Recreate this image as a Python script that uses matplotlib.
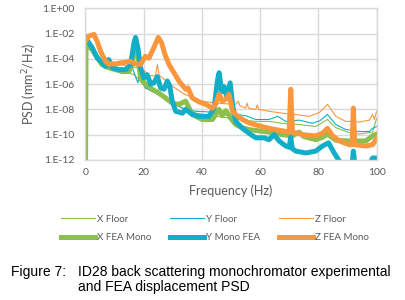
import numpy as np
import matplotlib.pyplot as plt
from matplotlib.ticker import FuncFormatter

# data: frequency (Hz) and log10 of PSD (mm^2/Hz)
x_floor_f = [0, 2, 4, 6, 8, 10, 13, 15, 17, 19, 20.6, 24, 28, 33.3, 38, 43, 47, 51.6,
             58.5, 63, 67.7, 73.4, 79.1, 83.1, 86, 90.6, 94, 98.6, 100]
x_floor_exp = [-2.7, -3.0, -3.8, -4.4, -4.7, -4.9, -5.0, -5.1, -5.3, -5.8, -6.3, -6.7, -7.2,
               -7.9, -8.3, -8.5, -8.6, -8.8, -8.95, -8.95, -9.1, -9.2, -9.35, -8.8, -9.45,
               -9.85, -9.95, -9.8, -8.7]

y_floor_f = [0, 2, 4, 6, 7.5, 9, 12, 15, 16, 17, 18, 19, 20.6, 24, 28.7, 33.3, 37.8, 42.4,
             46, 51.6, 55, 58.5, 63, 66, 68.8, 73.4, 77.9, 80.5, 83.1, 86, 89.4, 91.5, 92,
             92.5, 94, 97.5, 98.6, 100]
y_floor_exp = [-2.6, -2.8, -3.6, -4.3, -4.2, -4.6, -4.9, -5.1, -4.6, -5.3, -5.9, -5.0, -6.3,
               -6.7, -7.35, -7.9, -8.15, -8.2, -8.3, -8.4, -8.5, -8.8, -8.8, -8.55, -8.95,
               -8.85, -9.1, -8.9, -8.4, -9.2, -9.6, -9.65, -8.4, -9.7, -9.75, -9.75, -9.5,
               -9.35]

z_floor_f = [0, 1.5, 3, 4.5, 6, 8, 10, 13, 15, 18, 20, 22, 24, 24.7, 25.3, 27, 29.8, 33.3,
             36, 40.1, 44.7, 48, 51.6, 52.5, 53, 55, 55.5, 56, 58.5, 59, 59.5, 63, 67.7, 72,
             76.8, 80.3, 83.1, 86, 89.4, 91.5, 92, 92.5, 94, 97.5, 98.6, 99.2, 100]
z_floor_exp = [-2.5, -2.2, -2.1, -2.9, -3.8, -4.3, -4.4, -4.5, -4.6, -4.7, -4.9, -5.3, -5.35,
               -4.45, -5.3, -5.6, -6.15, -6.7, -7.0, -7.35, -7.5, -7.55, -7.6, -7.35, -7.7,
               -7.9, -7.5, -7.9, -8.0, -7.65, -8.0, -8.15, -8.3, -8.4, -8.55, -8.25, -7.6,
               -8.55, -8.95, -8.95, -7.75, -8.95, -9.0, -8.85, -8.4, -8.8, -8.15]

x_fea_f = [0, 0.2, 2.3, 4, 5.7, 8, 10.3, 12.6, 14.9, 16, 16.8, 17.3, 18, 18.9, 20.6, 22.9,
           25.2, 27.5, 29.8, 32.1, 34.4, 36.7, 40.1, 43.6, 45.9, 47, 48.2, 49.9, 51.6, 53.9,
           56.2, 59.6, 63, 67.7, 71, 73.4, 75, 79.1, 81.5, 83.1, 86, 90.6, 96.3, 98.6, 100]
x_fea_exp = [-14, -2.85, -3.25, -3.9, -4.45, -4.7, -4.85, -5.0, -5.0, -4.5, -2.6, -2.4, -3.8,
             -5.5, -6.0, -6.4, -6.7, -7.1, -7.5, -7.6, -7.35, -8.4, -8.8, -8.8, -8.0, -8.5,
             -8.1, -8.7, -9.2, -9.45, -9.6, -9.7, -9.8, -10.0, -10.1, -9.8, -10.15, -10.4,
             -10.2, -9.95, -10.45, -10.5, -10.5, -10.1, -9.95]

y_fea_f = [0, 1.1, 2.3, 4, 5.7, 6.9, 8, 9.2, 11.5, 13.8, 15.5, 16.6, 17.2, 18.1, 18.9, 20.1,
           21.2, 22.4, 23.5, 24.7, 25.8, 27, 28.1, 28.9, 29.8, 31, 33.3, 34.4, 36.7, 39,
           42.4, 44.2, 45.3, 45.9, 46.8, 47.6, 48.5, 49.7, 50.5, 51.6, 53.9, 56.2, 58.5,
           61.4, 63, 64.8, 66.5, 68.8, 70, 70.5, 71, 72.2, 75.7, 79.1, 81.4, 83.5, 85.4,
           87.2, 90.6, 91.5, 92, 92.6, 95, 97.5, 98.6, 100]
y_fea_exp = [-2.3, -2.7, -3.1, -3.9, -4.3, -4.6, -4.05, -4.7, -4.85, -4.85, -4.45, -2.85,
             -2.3, -3.25, -4.7, -5.5, -5.25, -6.0, -5.9, -5.4, -6.3, -6.4, -5.75, -6.1,
             -7.35, -8.15, -8.3, -8.0, -8.4, -8.55, -8.55, -7.9, -5.75, -5.1, -6.6, -6.2,
             -7.0, -5.9, -7.6, -8.95, -9.5, -9.9, -10.25, -10.25, -10.4, -10.0, -10.5,
             -10.9, -11.0, -10.2, -11.1, -11.3, -11.45, -11.3, -10.9, -10.65, -11.45, -12.1,
             -12.6, -12.5, -11.3, -12.5, -12.8, -12.4, -11.85, -11.85]

z_fea_f = [0, 1.1, 2.9, 4, 5.2, 6.9, 8, 10.3, 12.6, 15.5, 16.6, 18.9, 20.6, 21.8, 23.5, 25,
           26.1, 27.3, 28.7, 30.4, 32.1, 34.4, 35.2, 36.7, 39, 41.3, 43.6, 44.7, 45.9, 47,
           48.2, 49.3, 50.5, 51.6, 53.9, 56.2, 59.6, 63, 67.7, 69.95, 70.5, 71.1, 74.5, 79.1,
           81.4, 83.1, 84.9, 87.2, 90.6, 91.6, 92, 92.5, 96.3, 98.6, 100]
z_fea_exp = [-2.6, -2.2, -2.06, -2.6, -3.4, -4.2, -4.4, -4.4, -4.3, -4.2, -4.35, -4.45, -3.8,
             -3.95, -3.1, -2.3, -2.7, -3.65, -4.45, -5.1, -5.75, -6.4, -6.3, -7.1, -7.4,
             -7.6, -7.9, -7.6, -6.8, -7.35, -7.2, -6.8, -8.15, -8.4, -8.8, -9.07, -9.3, -9.5,
             -9.7, -9.8, -6.4, -9.8, -10.0, -10.1, -9.9, -9.5, -10.1, -10.5, -10.8, -10.8,
             -7.9, -10.8, -10.9, -10.8, -10.3]

x_ticks = [0, 20, 40, 60, 80, 100]
y_ticks_exp = [0, -2, -4, -6, -8, -10, -12]

green = '#8CBF4E'
cyan = '#12AEC8'
orange = '#F9973F'
grid_col = '#D9D9D9'
text_col = '#595959'

fig = plt.figure(figsize=(4.05, 3.0), dpi=100)
ax = fig.add_axes([0.211, 0.467, 0.719, 0.505])

# Excel series order: floors first, FEA on top
l1, = ax.plot(x_floor_f, 10.0 ** np.array(x_floor_exp), color=green, lw=0.8, label='X Floor')
l2, = ax.plot(y_floor_f, 10.0 ** np.array(y_floor_exp), color=cyan, lw=0.8, label='Y Floor')
l3, = ax.plot(z_floor_f, 10.0 ** np.array(z_floor_exp), color=orange, lw=0.8, label='Z Floor')
l4, = ax.plot(x_fea_f, 10.0 ** np.array(x_fea_exp), color=green, lw=3.6, label='X FEA Mono')
l5, = ax.plot(y_fea_f, 10.0 ** np.array(y_fea_exp), color=cyan, lw=3.6, label='Y Mono FEA')
l6, = ax.plot(z_fea_f, 10.0 ** np.array(z_fea_exp), color=orange, lw=3.6, label='Z FEA Mono')

ax.set_yscale('log')
ax.set_xlim(0, 100)
ax.set_ylim(1e-12, 1)
ax.set_xticks(x_ticks)
ax.set_yticks([10.0 ** e for e in y_ticks_exp])
ax.yaxis.set_minor_locator(plt.NullLocator())
ax.yaxis.set_major_formatter(FuncFormatter(lambda v, p: '1.E%+03d' % round(np.log10(v))))
ax.grid(True, color=grid_col, lw=1)
ax.set_axisbelow(True)
for s in ax.spines.values():
    s.set_color(grid_col)
    s.set_linewidth(1)
ax.tick_params(length=0, labelsize=7.5, labelcolor=text_col)
ax.tick_params(axis='y', pad=8)
ax.tick_params(axis='x', pad=6)
for t in ax.get_xticklabels() + ax.get_yticklabels():
    t.set_family('Lato')

ax.set_xlabel('Frequency (Hz)', fontsize=9, color=text_col, family='Lato', labelpad=5)
ax.set_ylabel('PSD (mm$^2$/Hz)', fontsize=9, color=text_col, family='Lato', labelpad=2)

handles = [l1, l4, l2, l5, l3, l6]
leg = fig.legend(handles=handles, ncol=3, loc='center', bbox_to_anchor=(0.531, 0.238),
                 frameon=False, handlelength=3.5, handletextpad=0.2, columnspacing=1.9,
                 labelspacing=1.0, prop={'family': 'Lato', 'size': 7})
for t in leg.get_texts():
    t.set_color(text_col)

fig.text(11 / 405, 1 - 272 / 300, 'Figure 7:', fontsize=10, family='Liberation Sans',
         va='center', ha='left')
fig.text(78 / 405, 1 - 272 / 300, 'ID28 back scattering monochromator experimental',
         fontsize=10, family='Liberation Sans', va='center', ha='left')
fig.text(78 / 405, 1 - 287 / 300, 'and FEA displacement PSD',
         fontsize=10, family='Liberation Sans', va='center', ha='left')

fig.savefig('out.png', dpi=100)
